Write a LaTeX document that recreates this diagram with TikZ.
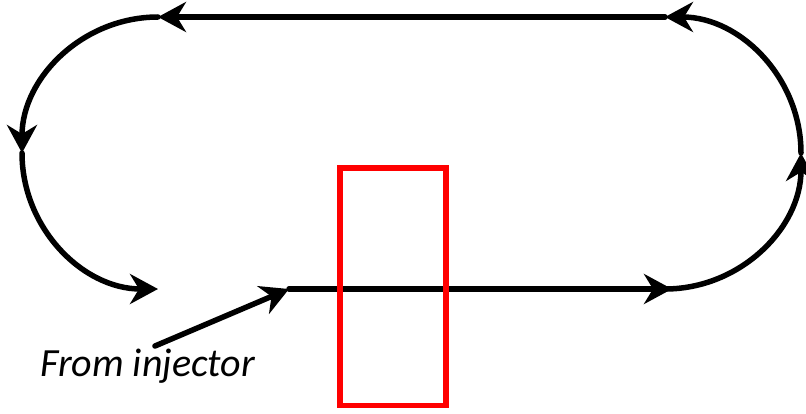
\documentclass[tikz,border=0pt]{standalone}
\usepackage{fontspec}
\setmainfont{Carlito}
\usetikzlibrary{arrows.meta}
\begin{document}
\begin{tikzpicture}[x=1pt,y=1pt,
  beam/.style={line width=5.5pt, line cap=round, -{Stealth[length=28pt,width=30pt,inset=9pt]}},
  magnet/.style={draw=red, line width=5.5pt, inner sep=0pt, minimum width=106pt, minimum height=237.5pt},
  lbl/.style={anchor=base west, inner sep=0pt, font=\itshape\fontsize{40}{44}\selectfont}]
\useasboundingbox (0,0) rectangle (806,413);
\coordinate (TL) at (158,396);
\coordinate (TR) at (665,396);
\coordinate (L) at (22,260);
\coordinate (R) at (801,260);
\coordinate (BR) at (665,124);
\coordinate (inj) at (289,124);
\coordinate (src) at (155,67);
\coordinate (BRend) at (672,124);
\draw[beam] (TR) -- (TL);
\draw[beam] (TL) arc[start angle=90,end angle=180,radius=136];
\draw[beam] (L) arc[start angle=180,end angle=270,radius=136];
\draw[beam] (inj) -- (BRend);
\draw[beam] (BR) arc[start angle=-90,end angle=0,radius=136];
\draw[beam] (R) arc[start angle=0,end angle=90,radius=136];
\draw[beam] (src) -- (inj);
\node[magnet] (box) at (393,126.25) {};
\node[lbl] (text) at (40,37) {From injector};
\end{tikzpicture}
\end{document}
